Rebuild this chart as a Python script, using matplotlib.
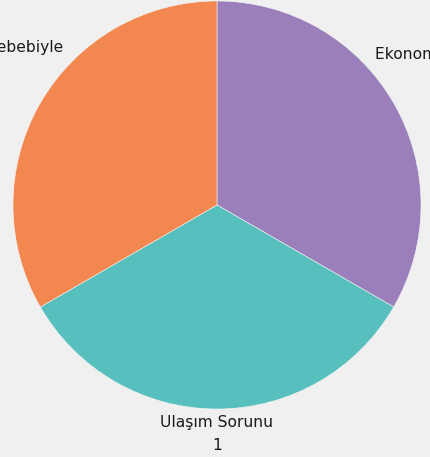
import matplotlib
matplotlib.use("Agg")
import matplotlib.pyplot as plt

categories = ["Ekonomik Sebepler", "Ulaşım Sorunu", "Sağlık Sorunları Sebebiyle"]
values = [1, 1, 1]
colors = ["#9b7fba", "#57c0be", "#f2874f"]

plt.rcParams['font.family'] = ['DejaVu Sans']
bg = "#eff0ef"
fig = plt.figure(figsize=(4.30, 4.57), dpi=100, facecolor=bg)
ax = fig.add_axes([0, 0, 1, 1])
ax.set_facecolor(bg)

ax.pie(values, colors=colors, startangle=90, counterclock=False,
       radius=204, center=(217, 252),
       wedgeprops=dict(linewidth=0.4, edgecolor="#f4f4f4"))
ax.set_xlim(0, 430)
ax.set_ylim(0, 457)
ax.set_aspect('equal')
ax.axis('off')

fs = 11.2
tcol = "#1a1a1a"
# label anchors (first line): x, y, ha
anchors = [(375, 402, 'left'), (217, 34, 'center'), (63, 410, 'right')]
fig.canvas.draw()
r = fig.canvas.get_renderer()
inv = ax.transData.inverted()
for cat, val, (x, y, ha) in zip(categories, values, anchors):
    t = ax.text(x, y, cat, ha=ha, va='center', fontsize=fs, color=tcol)
    bb = t.get_window_extent(renderer=r)
    cx = inv.transform(((bb.x0 + bb.x1) / 2, 0))[0]
    ax.text(cx, y - 22, str(val), ha='center', va='center', fontsize=fs, color=tcol)

fig.savefig("out.png", dpi=100, facecolor=bg)
